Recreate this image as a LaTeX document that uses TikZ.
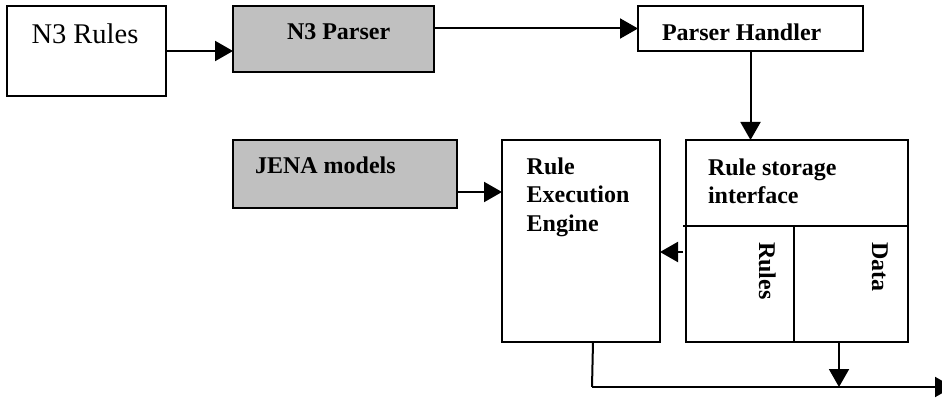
\documentclass[tikz,border=0pt]{standalone}
\usepackage{fontspec}
\setmainfont{Liberation Serif}
\usetikzlibrary{arrows.meta,calc}

\definecolor{boxgray}{HTML}{C0C0C0}

\tikzset{
  box/.style={draw, line width=2pt, rectangle, inner sep=0pt, outer sep=0pt},
  graybox/.style={box, fill=boxgray},
  lbl/.style={inner sep=0pt, outer sep=0pt, anchor=base west,
              font=\fontsize{24}{28.5}\selectfont\bfseries},
  blk/.style={inner sep=0pt, outer sep=0pt, anchor=north west, align=left,
              font=\fontsize{24}{28.5}\selectfont\bfseries},
  flow/.style={line width=2pt, -{Triangle[length=18pt,width=20pt]}},
  wire/.style={line width=2pt},
}

\begin{document}
\begin{tikzpicture}[x=1pt, y=-1pt]
\useasboundingbox (0,0) rectangle (942,398);

% boxes
\node[box, minimum width=159pt, minimum height=90pt] (rules) at (86.5,51) {};
\node[graybox, minimum width=201pt, minimum height=66pt] (parser) at (333.5,39) {};
\node[box, minimum width=225pt, minimum height=45pt] (handler) at (750.5,28.5) {};
\node[graybox, minimum width=224pt, minimum height=68pt] (jena) at (345,174) {};
\node[box, minimum width=158pt, minimum height=202pt] (engine) at (581,241) {};
\node[box, minimum width=222pt, minimum height=202pt] (storage) at (797,241) {};

% storage compartments
\coordinate (divL) at ($(storage.north west)+(-3,86)$);
\draw[wire] (divL) -- (divL -| storage.east);
\draw[wire] ([xshift=-3pt]storage.south |- divL) -- ([xshift=-3pt]storage.south);

% labels
\node[inner sep=0pt, outer sep=0pt, anchor=base west,
      font=\fontsize{28.5}{34}\selectfont] (rulesT) at (31.5,43.3) {N3 Rules};
\node[lbl] (parserT) at (287,40) {N3 Parser};
\node[lbl] (handlerT) at (662,41) {Parser Handler};
\node[lbl] (jenaT) at (255,173.3) {JENA models};
\node[blk] (engineT) at (526.7,157.8) {Rule\\Execution\\Engine};
\node[blk] (storageT) at (708,158.8) {Rule storage\\interface};
\node[lbl, rotate=-90] (rulesV) at (759,242) {Rules};
\node[lbl, rotate=-90] (dataV) at (872,242) {Data};

% connectors
\draw[flow] (rules.east) -- (rules.east -| parser.west);
\draw[flow] (handler.west -| parser.east) -- (handler.west);
\draw[flow] (handler.south) -- (handler.south |- storage.north);
\draw[flow] ([yshift=-18pt]jena.east) -- ([yshift=-18pt]jena.east -| engine.west);
\draw[flow] ([xshift=-3pt,yshift=-11pt]storage.west) -- ([yshift=-11pt]storage.west -| engine.east);

% output bus
\coordinate (busL) at (592,387);
\coordinate (busR) at (953,387);
\draw[wire] ([xshift=12pt]engine.south) -- (busL);
\draw[flow] (busL) -- (busR);
\draw[flow] ([xshift=42pt]storage.south) -- ([xshift=42pt]storage.south |- busL);
\end{tikzpicture}
\end{document}
